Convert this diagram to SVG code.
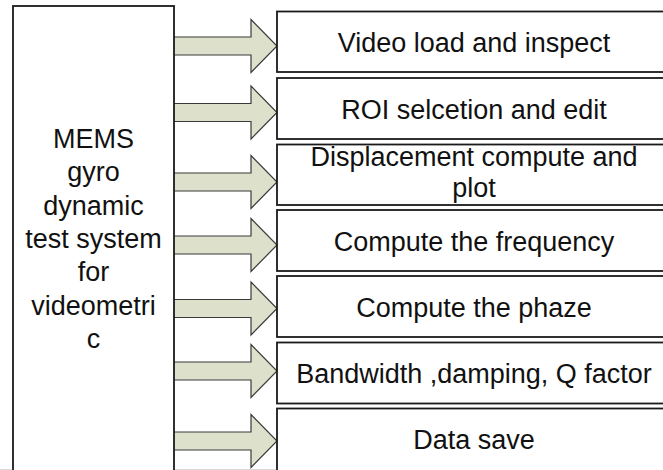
<svg xmlns="http://www.w3.org/2000/svg" width="663" height="470" viewBox="0 0 663 470">
<style>
.box{fill:#ffffff;stroke:#1a1a1a;stroke-width:1.8}
.arrow{fill:#dde0cb;stroke:#3a3a3a;stroke-width:1.2;stroke-linejoin:miter}
.t{font-family:"Liberation Sans",Arial,sans-serif;font-size:27px;fill:#111;text-anchor:middle}
</style>
<defs>
<path id="arr" d="M174,-9 H251 V-26.5 L277,0 L251,26.5 V9 H174"/>
</defs>
<rect x="0" y="0" width="663" height="470" fill="#ffffff"/>
<line x1="0" y1="469.5" x2="663" y2="469.5" stroke="#dcdcdc" stroke-width="1"/>
<g id="connectors">
<use href="#arr" class="arrow" transform="translate(0,46)"/>
<use href="#arr" class="arrow" transform="translate(0,112.5)"/>
<use href="#arr" class="arrow" transform="translate(0,182)"/>
<use href="#arr" class="arrow" transform="translate(0,245)"/>
<use href="#arr" class="arrow" transform="translate(0,308.5)"/>
<use href="#arr" class="arrow" transform="translate(0,371)"/>
<use href="#arr" class="arrow" transform="translate(0,441)"/>
</g>
<g id="main">
<rect class="box" x="13" y="6" width="161" height="470"/>
<text class="t" x="93.5" y="148">MEMS</text>
<text class="t" x="93.5" y="181.3">gyro</text>
<text class="t" x="93.5" y="214.6">dynamic</text>
<text class="t" x="93.5" y="247.9">test system</text>
<text class="t" x="93.5" y="281.2">for</text>
<text class="t" x="93.5" y="314.5">videometri</text>
<text class="t" x="93.5" y="347.8">c</text>
</g>
<g id="n1">
<rect class="box" x="277" y="11.5" width="396" height="60.5"/>
<text class="t" x="474" y="52">Video load and inspect</text>
</g>
<g id="n2">
<rect class="box" x="277" y="78" width="396" height="61"/>
<text class="t" x="474" y="118.5">ROI selcetion and edit</text>
</g>
<g id="n3">
<rect class="box" x="277" y="144.5" width="396" height="60.5"/>
<text class="t" x="474" y="166">Displacement compute and</text>
<text class="t" x="474" y="197">plot</text>
</g>
<g id="n4">
<rect class="box" x="277" y="210" width="396" height="61"/>
<text class="t" x="474" y="251">Compute the frequency</text>
</g>
<g id="n5">
<rect class="box" x="277" y="276" width="396" height="61"/>
<text class="t" x="474" y="317">Compute the phaze</text>
</g>
<g id="n6">
<rect class="box" x="277" y="342.5" width="396" height="61"/>
<text class="t" x="474" y="382.5">Bandwidth ,damping, Q factor</text>
</g>
<g id="n7">
<rect class="box" x="277" y="408.5" width="396" height="80"/>
<text class="t" x="474" y="448.5">Data save</text>
</g>
</svg>
